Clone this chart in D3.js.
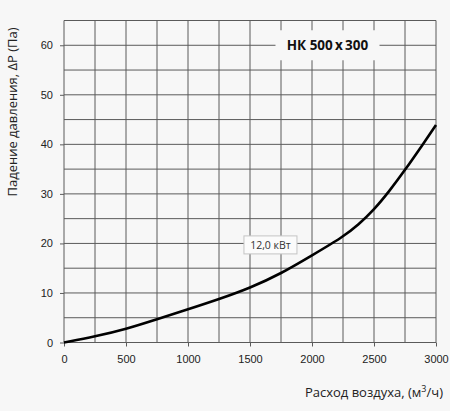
<!DOCTYPE html>
<html>
<head>
<meta charset="utf-8">
<script src="https://cdn.jsdelivr.net/npm/d3@7"></script>
<style>
  html, body { margin: 0; padding: 0; background: #f7f7f7; }
  svg { display: block; font-family: "Open Sans", sans-serif; }
</style>
</head>
<body>
<div id="chart"></div>
<script>
// airflow, m3/h
const flow = [0, 250, 500, 750, 1000, 1250, 1500, 1750, 2000, 2250, 2375, 2500, 2625, 2750, 2875, 3000];
// pressure drop, Pa
const pressure = [0, 1.2, 2.7, 4.7, 6.7, 8.75, 11.0, 13.9, 17.6, 21.3, 23.8, 26.8, 30.6, 34.8, 39.3, 43.9];
const xTicks = [0, 500, 1000, 1500, 2000, 2500, 3000];
const yTicks = [0, 10, 20, 30, 40, 50, 60];
const xGrid = d3.range(0, 3001, 250);
const yGrid = d3.range(0, 66, 5);
const title = 'НК 500\u2009x\u2009300';
const powerLabel = '12,0 кВт';

const W = 450, H = 411;
const margin = {top: 20.5, right: 14, bottom: 68.5, left: 64};
const width = W - margin.left - margin.right;
const height = H - margin.top - margin.bottom;

const svg = d3.select('#chart')
    .append('svg')
    .attr('width', W)
    .attr('height', H);

const chart = svg.append('g')
    .attr('transform', `translate(${margin.left}, ${margin.top})`);

const x = d3.scaleLinear().domain([0, 3000]).range([0, width]);
const y = d3.scaleLinear().domain([0, 65]).range([height, 0]);

const gridColor = '#5a5a5a';

// grid
chart.selectAll('.vgrid')
    .data(xGrid)
    .enter()
    .append('line')
    .attr('x1', d => x(d)).attr('x2', d => x(d))
    .attr('y1', 0).attr('y2', height)
    .attr('stroke', gridColor)
    .attr('stroke-width', 1);

chart.selectAll('.hgrid')
    .data(yGrid.concat([65]))
    .enter()
    .append('line')
    .attr('x1', 0).attr('x2', width)
    .attr('y1', d => y(d)).attr('y2', d => y(d))
    .attr('stroke', gridColor)
    .attr('stroke-width', 1);

// axes (ticks only, labels)
const xAxis = chart.append('g')
    .attr('transform', `translate(0, ${height})`)
    .call(d3.axisBottom(x).tickValues(xTicks).tickSize(4).tickPadding(9).tickFormat(d3.format('d')));
xAxis.select('.domain').remove();
xAxis.selectAll('line').attr('stroke', gridColor);
xAxis.selectAll('text').attr('fill', '#222').style('font-size', '11px');

const yAxis = chart.append('g')
    .call(d3.axisLeft(y).tickValues(yTicks).tickSize(4).tickPadding(7));
yAxis.select('.domain').remove();
yAxis.selectAll('line').attr('stroke', gridColor);
yAxis.selectAll('text').attr('fill', '#222').style('font-size', '11px');

// title with background knocking out grid
const tx = x(2125), ty = y(60);
chart.append('rect')
    .attr('x', tx - 52).attr('y', ty - 15)
    .attr('width', 104).attr('height', 30)
    .attr('fill', '#f7f7f7');
chart.append('text')
    .attr('x', tx).attr('y', ty + 5)
    .attr('text-anchor', 'middle')
    .style('font-size', '13.5px')
    .style('font-weight', 'bold')
    .attr('fill', '#111')
    .text(title);

// curve
const line = d3.line()
    .x((d, i) => x(flow[i]))
    .y(d => y(d))
    .curve(d3.curveBasis);

chart.append('path')
    .datum(pressure)
    .attr('d', line)
    .attr('fill', 'none')
    .attr('stroke', '#000')
    .attr('stroke-width', 2.6);

// power label
const lx = x(1665), ly = y(19.7);
chart.append('rect')
    .attr('x', lx - 26.5).attr('y', ly - 9)
    .attr('width', 53).attr('height', 18)
    .attr('fill', '#fbfbfb')
    .attr('stroke', '#c4c4c4')
    .attr('stroke-width', 1);
chart.append('text')
    .attr('x', lx).attr('y', ly + 4)
    .attr('text-anchor', 'middle')
    .style('font-size', '10.5px')
    .attr('fill', '#333')
    .text(powerLabel);

// axis titles
svg.append('text')
    .attr('transform', `translate(17, 112) rotate(-90)`)
    .attr('text-anchor', 'middle')
    .style('font-size', '13px')
    .attr('fill', '#222')
    .text('Падение давления, ΔP (Па)');

svg.append('text')
    .attr('x', 443).attr('y', 397)
    .attr('text-anchor', 'end')
    .style('font-size', '13px')
    .attr('fill', '#222')
    .html('Расход воздуха, (м<tspan dy="-5" style="font-size:9px">3</tspan><tspan dy="5">/ч)</tspan>');
</script>
</body>
</html>
